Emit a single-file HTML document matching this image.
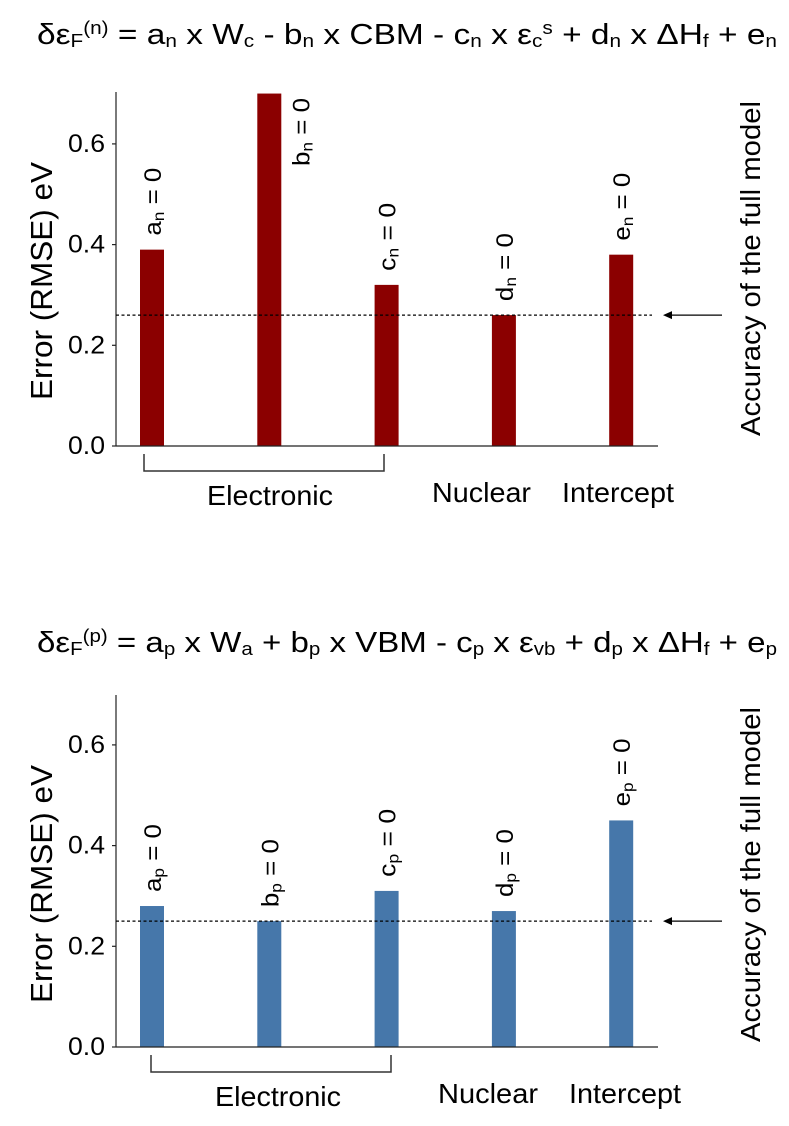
<!DOCTYPE html>
<html><head><meta charset="utf-8"><style>
html,body{margin:0;padding:0;background:#fff;}
svg{display:block;font-family:"Liberation Sans",sans-serif;}
</style></head><body>
<svg id="fig" width="789" height="1126" viewBox="0 0 789 1126"></svg>
<script>
const categories = ["a","b","c","d","e"];
const nValues = [0.39, 0.70, 0.32, 0.26, 0.38];
const pValues = [0.28, 0.25, 0.31, 0.27, 0.45];
const nAccuracy = 0.26;
const pAccuracy = 0.25;
const yTicks = [0.0, 0.2, 0.4, 0.6];
const yTickLabels = ["0.0","0.2","0.4","0.6"];
const groupLabels = ["Electronic","Nuclear","Intercept"];

const svg = document.getElementById('fig');
const NS = 'http://www.w3.org/2000/svg';
function mk(tag, attrs, parent){
  const e = document.createElementNS(NS, tag);
  for (const k in attrs) e.setAttribute(k, attrs[k]);
  (parent||svg).appendChild(e);
  return e;
}

function drawPanel(cfg){
  const g = mk('g', {});
  
  
  const x0 = 116, x1 = 658;
  const y = v => cfg.zeroY - v * cfg.pxPerUnit;
  const xc = i => 152 + i * 117.3;
  const t = mk('text', {x: cfg.titleX, y: cfg.titleY, 'font-size':29, fill:'#000', textLength: cfg.titleLen, lengthAdjust:'spacingAndGlyphs'}, g);
  
  
  t.innerHTML = cfg.title;
  cfg.values.forEach((v, i) => {
    const r = mk('rect', {x: xc(i) - 12, y: y(v), width: 24, height: cfg.zeroY - y(v), fill: cfg.color}, g);
    
    
    let lx, ly;
    if (cfg.sideLabel === i) { lx = xc(i) + 40; ly = cfg.topY + 74; }
    else { lx = xc(i) + 9; ly = y(v) - 14; }
    const lb = mk('text', {transform:`translate(${lx},${ly}) rotate(-90)`, 'font-size':24, 'text-anchor':'start', fill:'#000', textLength:68, lengthAdjust:'spacingAndGlyphs'}, g);
    
    
    lb.innerHTML = categories[i] + '<tspan font-size="16" dy="3">' + cfg.sub + '</tspan><tspan dy="-3"> = 0</tspan>';
  });
  const ya = mk('line', {x1:x0, y1:cfg.topY, x2:x0, y2:cfg.zeroY, stroke:'#222', 'stroke-width':1.2}, g);
   
  const xa = mk('line', {x1:x0, y1:cfg.zeroY, x2:x1, y2:cfg.zeroY, stroke:'#222', 'stroke-width':1.2}, g);
   
  yTicks.forEach((tv, i) => {
    const tk = mk('line', {x1:x0-4, y1:y(tv), x2:x0, y2:y(tv), stroke:'#222', 'stroke-width':1.2}, g);
     
    const tl = mk('text', {x:68, y:y(tv)+8, 'font-size':25, fill:'#000', textLength:37, lengthAdjust:'spacingAndGlyphs'}, g);
     
    tl.textContent = yTickLabels[i];
  });
  const yt = mk('text', {transform:`translate(52,${cfg.yTitleBottom}) rotate(-90)`, 'font-size':31, fill:'#000', textLength:238, lengthAdjust:'spacingAndGlyphs'}, g);
   
  yt.textContent = 'Error (RMSE)  eV';
  const dl = mk('line', {x1:x0, y1:y(cfg.acc), x2:652, y2:y(cfg.acc), stroke:'#000', 'stroke-width':1.3, 'stroke-dasharray':'3,2.5'}, g);
   
  const ar = mk('line', {x1:722, y1:y(cfg.acc), x2:668, y2:y(cfg.acc), stroke:'#000', 'stroke-width':1.3}, g);
   
  const ah = mk('path', {d:`M663,${y(cfg.acc)} l9,-4 l0,8 z`, fill:'#000'}, g);
   
  const at = mk('text', {transform:`translate(760,${cfg.accBottom}) rotate(-90)`, 'font-size':28, fill:'#000', textLength:335, lengthAdjust:'spacingAndGlyphs'}, g);
   
  at.textContent = 'Accuracy of the full model';
  const by = cfg.zeroY + 8;
  const br = mk('path', {d:`M${cfg.brL},${by} V${by+17} H${cfg.brR} V${by}`, fill:'none', stroke:'#333', 'stroke-width':1.5}, g);
   
  groupLabels.forEach((s, i) => {
    const gl = mk('text', {x:cfg.gX[i], y:cfg.zeroY + cfg.gY[i], 'font-size':28, fill:'#000', textLength:cfg.gLen[i], lengthAdjust:'spacingAndGlyphs'}, g);
     
    gl.textContent = s;
  });
}

drawPanel({name:'n-type-panel', values:nValues, acc:nAccuracy, color:'#8b0000', sub:'n',
  zeroY:446, pxPerUnit:503.5, topY:92, titleX:37, titleY:44, titleLen:740, sideLabel:1,
  yTitleBottom:400, accBottom:436, brL:144, brR:384,
  gX:[207,432,562], gY:[59,56,56], gLen:[126,99,112],
  title:'δε<tspan font-size="18" dy="3">F</tspan><tspan font-size="18" dy="-13">(n)</tspan><tspan dy="10"> = a</tspan><tspan font-size="18" dy="3">n</tspan><tspan dy="-3"> x W</tspan><tspan font-size="18" dy="3">c</tspan><tspan dy="-3"> - b</tspan><tspan font-size="18" dy="3">n</tspan><tspan dy="-3"> x CBM - c</tspan><tspan font-size="18" dy="3">n</tspan><tspan dy="-3"> x ε</tspan><tspan font-size="18" dy="3">c</tspan><tspan font-size="18" dy="-13">s</tspan><tspan dy="10"> + d</tspan><tspan font-size="18" dy="3">n</tspan><tspan dy="-3"> x ΔH</tspan><tspan font-size="18" dy="3">f</tspan><tspan dy="-3"> + e</tspan><tspan font-size="18" dy="3">n</tspan>'});
drawPanel({name:'p-type-panel', values:pValues, acc:pAccuracy, color:'#4677aa', sub:'p',
  zeroY:1047, pxPerUnit:503.5, topY:695, titleX:37, titleY:652, titleLen:740, sideLabel:-1,
  yTitleBottom:1003, accBottom:1042, brL:151, brR:391,
  gX:[215,438,569], gY:[59,56,56], gLen:[126,100,112],
  title:'δε<tspan font-size="18" dy="3">F</tspan><tspan font-size="18" dy="-13">(p)</tspan><tspan dy="10"> = a</tspan><tspan font-size="18" dy="3">p</tspan><tspan dy="-3"> x W</tspan><tspan font-size="18" dy="3">a</tspan><tspan dy="-3"> + b</tspan><tspan font-size="18" dy="3">p</tspan><tspan dy="-3"> x VBM - c</tspan><tspan font-size="18" dy="3">p</tspan><tspan dy="-3"> x ε</tspan><tspan font-size="18" dy="3">vb</tspan><tspan dy="-3"> + d</tspan><tspan font-size="18" dy="3">p</tspan><tspan dy="-3"> x ΔH</tspan><tspan font-size="18" dy="3">f</tspan><tspan dy="-3"> + e</tspan><tspan font-size="18" dy="3">p</tspan>'});
</script>
</body></html>
